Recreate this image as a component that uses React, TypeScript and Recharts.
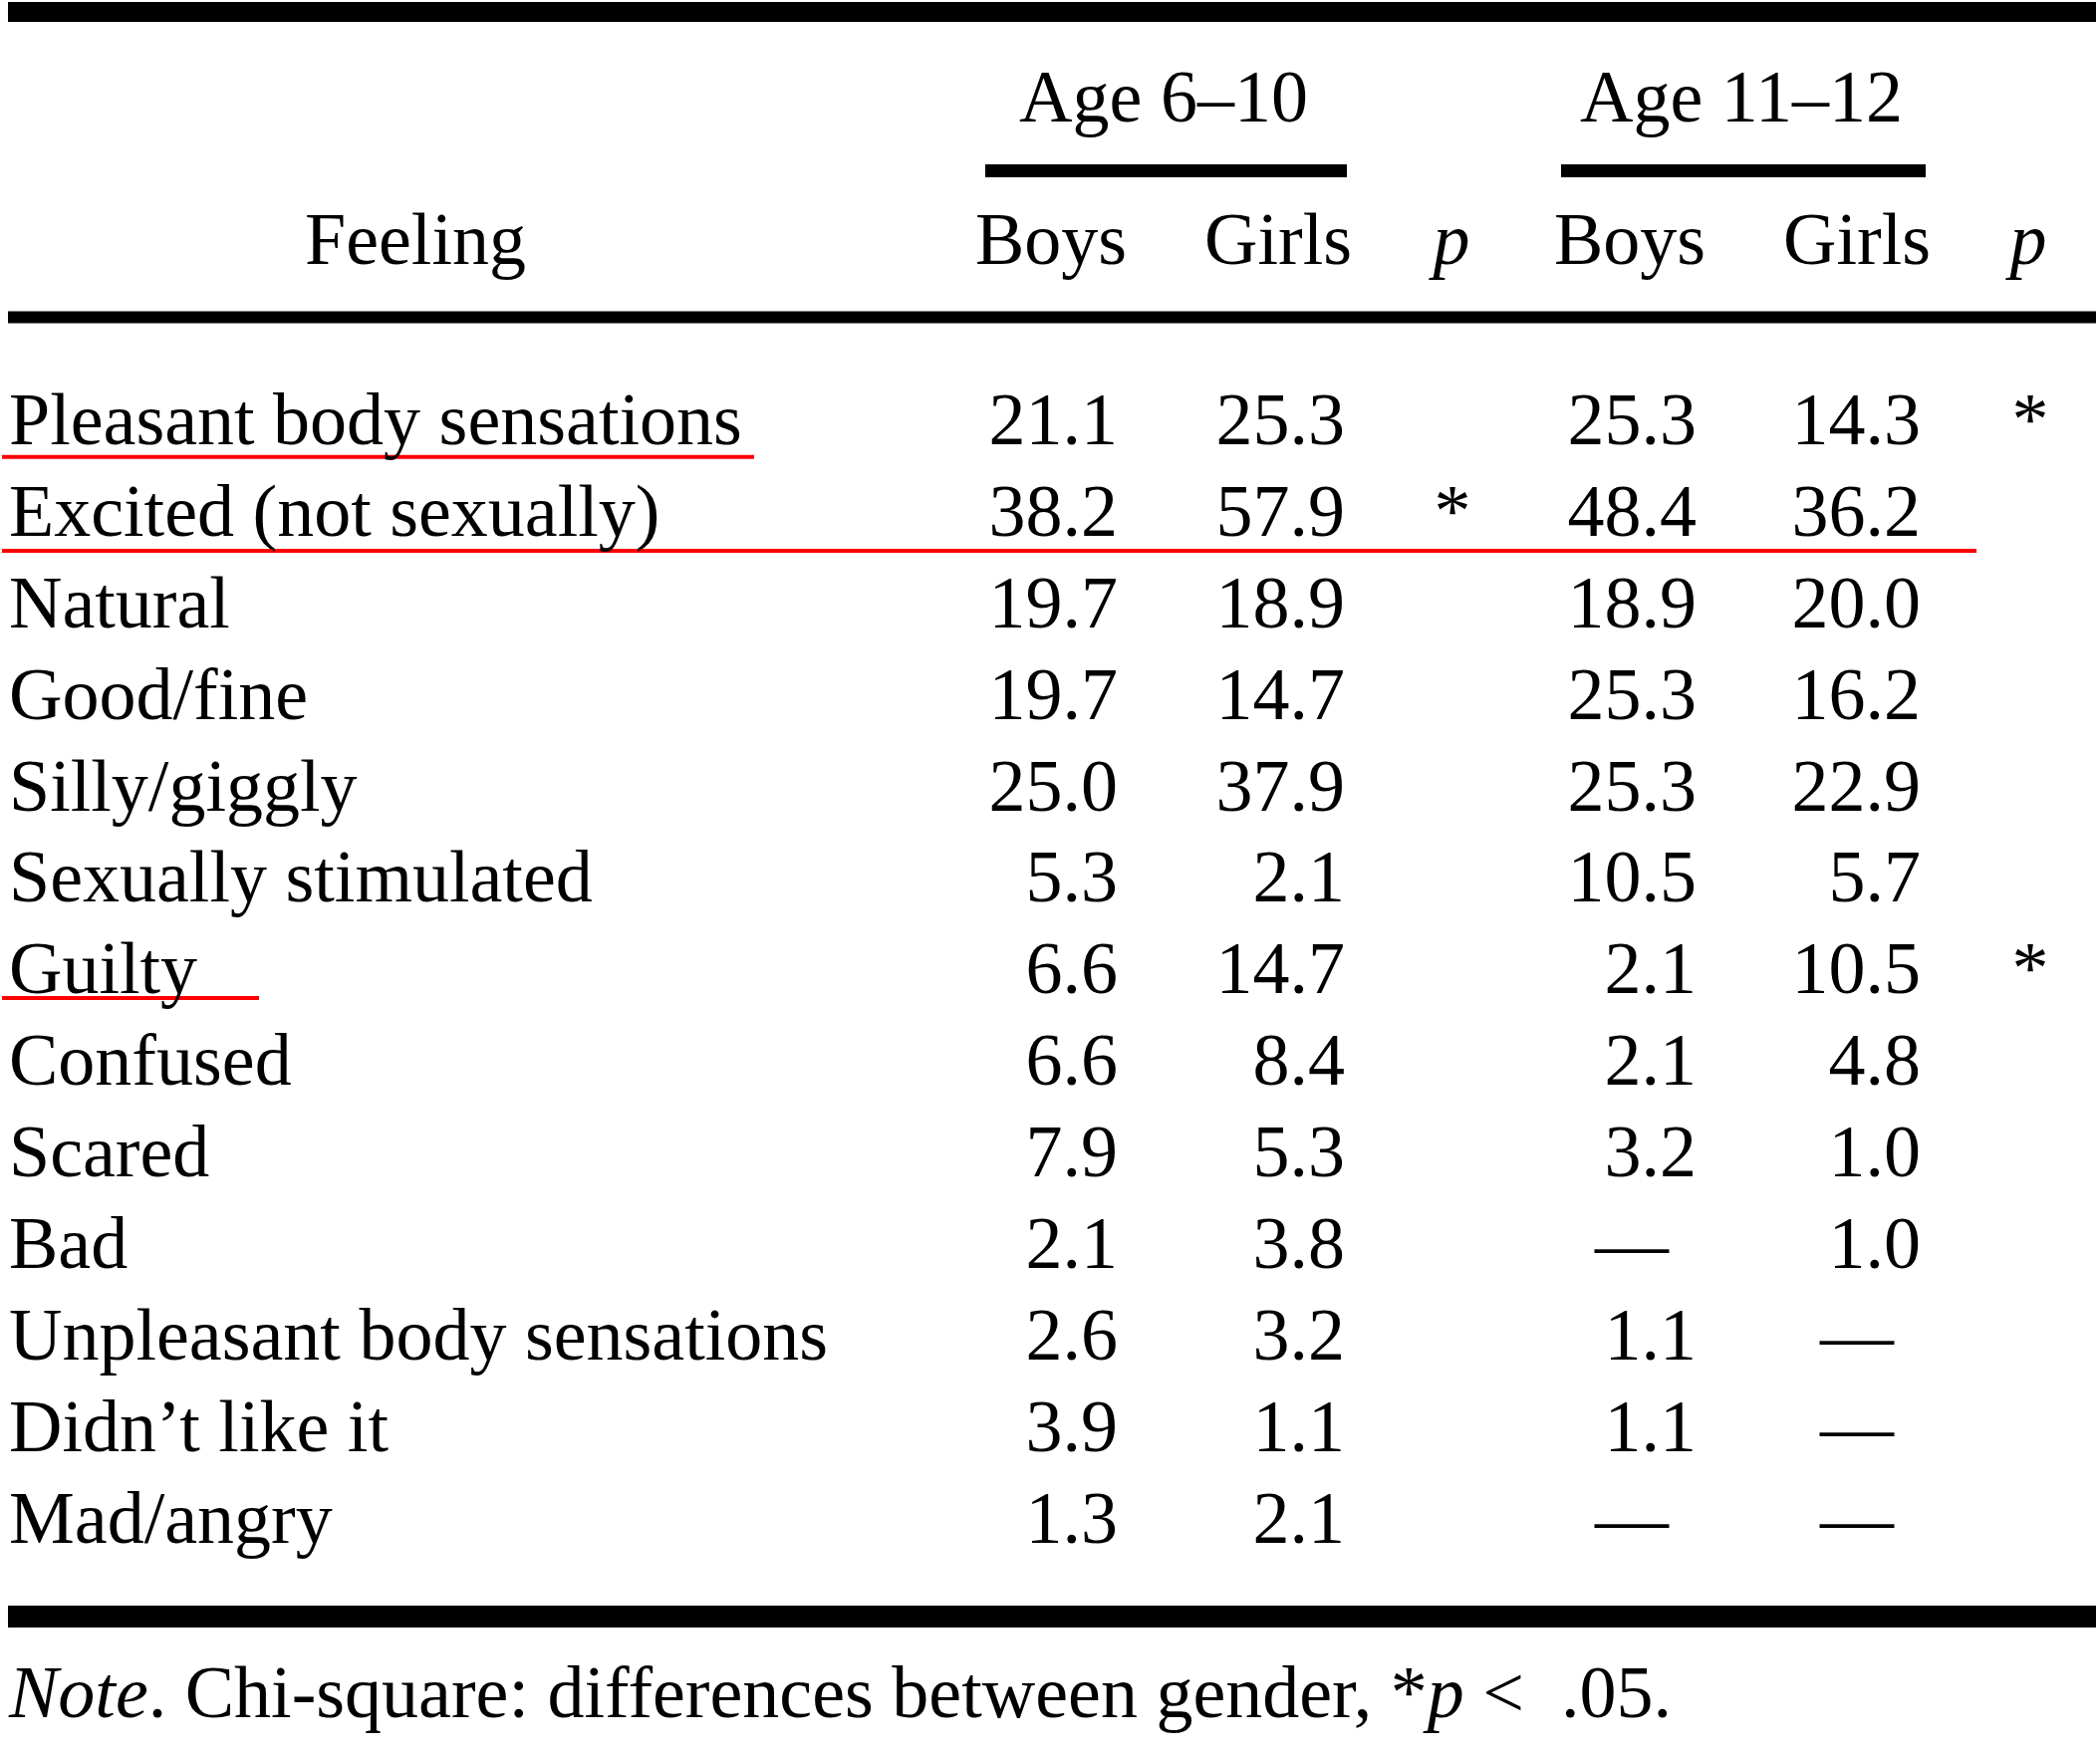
import React from 'react';
import { ScatterChart, Scatter, XAxis, YAxis, ReferenceLine } from 'recharts';

// table content
const feelings = [
  'Pleasant body sensations',
  'Excited (not sexually)',
  'Natural',
  'Good/fine',
  'Silly/giggly',
  'Sexually stimulated',
  'Guilty',
  'Confused',
  'Scared',
  'Bad',
  'Unpleasant body sensations',
  'Didn\u2019t like it',
  'Mad/angry',
];
const boys610: (number | null)[] = [21.1, 38.2, 19.7, 19.7, 25.0, 5.3, 6.6, 6.6, 7.9, 2.1, 2.6, 3.9, 1.3];
const girls610: (number | null)[] = [25.3, 57.9, 18.9, 14.7, 37.9, 2.1, 14.7, 8.4, 5.3, 3.8, 3.2, 1.1, 2.1];
const p610 = ['', '*', '', '', '', '', '', '', '', '', '', '', ''];
const boys1112: (number | null)[] = [25.3, 48.4, 18.9, 25.3, 25.3, 10.5, 2.1, 2.1, 3.2, null, 1.1, 1.1, null];
const girls1112: (number | null)[] = [14.3, 36.2, 20.0, 16.2, 22.9, 5.7, 10.5, 4.8, 1.0, 1.0, null, null, null];
const p1112 = ['*', '', '', '', '', '', '*', '', '', '', '', '', ''];

const ageGroups = ['Age 6\u201310', 'Age 11\u201312'];
const subHeads = ['Boys', 'Girls', 'p', 'Boys', 'Girls', 'p'];
const stubHead = 'Feeling';
const highlighted = ['Pleasant body sensations', 'Excited (not sexually)', 'Guilty'];

// layout (px on x, row units on y: row 0 baseline at 446px, 91.9px per row)
const W = 2108;
const H = 1764;
const FONT = '"Liberation Serif", "Times New Roman", serif';
const FS = 74;
const Y_DOMAIN: [number, number] = [-4.853, 14.342];
const ROW_AGE = -3.526;
const ROW_HEAD = -1.97;
const ROW_NOTE = 13.906;
const STUB_X = 9;
const STUB_HEAD_X = 417;
const AGE_X = [1168, 1748];
const HEAD_X = [1055, 1283, 1457, 1636, 1864, 2036];
const NUM_END_X = [1122, 1350, 1458, 1703, 1928, 2038];
const DASH_X = [1057, 1284, 1458, 1638, 1864, 2038];
const RULE_LEFT = 8;
const RULE_RIGHT = 2104;
const AGE_RULES = [
  [989, 1352],
  [1567, 1933],
];
const RED_LINES: Record<string, { dy: number; to: number }> = {
  'Pleasant body sensations': { dy: 0.14, to: 757 },
  'Excited (not sexually)': { dy: 0.165, to: 1984 },
  Guilty: { dy: 0.05, to: 260 },
};

type Cell = { x: number; y: number; text: string; anchor: string; italic?: boolean };

const TextMark = (props: any) => {
  const { cx, cy, payload } = props;
  if (cx == null || cy == null) return null;
  return (
    <text
      x={cx}
      y={cy}
      textAnchor={payload.anchor}
      fontFamily={FONT}
      fontSize={FS}
      fontStyle={payload.italic ? 'italic' : 'normal'}
      fill="#000"
    >
      {payload.text}
    </text>
  );
};

const NoteMark = (props: any) => {
  const { cx, cy } = props;
  if (cx == null || cy == null) return null;
  return (
    <text x={cx} y={cy} fontFamily={FONT} fontSize={FS} fill="#000" xmlSpace="preserve">
      <tspan fontStyle="italic">Note</tspan>
      <tspan>. Chi-square: differences between gender, *</tspan>
      <tspan fontStyle="italic">p</tspan>
      <tspan>{' <  .05.'}</tspan>
    </text>
  );
};

const valueCols = [boys610, girls610, p610, boys1112, girls1112, p1112];

const stubCells: Cell[] = feelings.map((f, i) => ({ x: STUB_X, y: i, text: f, anchor: 'start' }));

const bodyCells: Cell[] = valueCols.flatMap((col, c) =>
  (col as (number | string | null)[]).map((v, i) => {
    if (typeof v === 'string') return { x: NUM_END_X[c], y: i, text: v, anchor: 'middle' };
    if (v == null) return { x: DASH_X[c], y: i, text: '\u2014', anchor: 'middle' };
    return { x: NUM_END_X[c], y: i, text: v.toFixed(1), anchor: 'end' };
  })
);

const headCells: Cell[] = [
  { x: STUB_HEAD_X, y: ROW_HEAD, text: stubHead, anchor: 'middle' },
  ...subHeads.map((h, c) => ({ x: HEAD_X[c], y: ROW_HEAD, text: h, anchor: 'middle', italic: h === 'p' })),
  ...ageGroups.map((a, g) => ({ x: AGE_X[g], y: ROW_AGE, text: a, anchor: 'middle' })),
];

const noteCell = [{ x: STUB_X, y: ROW_NOTE }];

export default function App() {
  return (
    <div style={{ position: 'absolute', left: 0, top: 0, width: W, height: H, background: '#fff' }}>
      <ScatterChart width={W} height={H} margin={{ top: 0, right: 0, bottom: 0, left: 0 }}>
        <XAxis type="number" dataKey="x" domain={[0, W]} hide allowDataOverflow />
        <YAxis type="number" dataKey="y" domain={Y_DOMAIN} reversed hide allowDataOverflow />

        {/* rules */}
        <ReferenceLine
          segment={[{ x: RULE_LEFT, y: -4.722 }, { x: RULE_RIGHT, y: -4.722 }]}
          stroke="#000"
          strokeWidth={20}
          ifOverflow="visible"
        />
        {AGE_RULES.map(([a, b], g) => (
          <ReferenceLine
            key={g}
            segment={[{ x: a, y: -2.987 }, { x: b, y: -2.987 }]}
            stroke="#000"
            strokeWidth={13}
            ifOverflow="visible"
          />
        ))}
        <ReferenceLine
          segment={[{ x: RULE_LEFT, y: -1.387 }, { x: RULE_RIGHT, y: -1.387 }]}
          stroke="#000"
          strokeWidth={12}
          ifOverflow="visible"
        />
        <ReferenceLine
          segment={[{ x: RULE_LEFT, y: 12.807 }, { x: RULE_RIGHT, y: 12.807 }]}
          stroke="#000"
          strokeWidth={22}
          ifOverflow="visible"
        />

        {/* red hand-drawn underlines */}
        {highlighted.map((f) => {
          const i = feelings.indexOf(f);
          const r = RED_LINES[f];
          return (
            <ReferenceLine
              key={f}
              segment={[{ x: 2, y: i + r.dy }, { x: r.to, y: i + r.dy }]}
              stroke="#ff0000"
              strokeWidth={4}
              ifOverflow="visible"
            />
          );
        })}

        <Scatter data={headCells} shape={TextMark} isAnimationActive={false} />
        <Scatter data={stubCells} shape={TextMark} isAnimationActive={false} />
        <Scatter data={bodyCells} shape={TextMark} isAnimationActive={false} />
        <Scatter data={noteCell} shape={NoteMark} isAnimationActive={false} />
      </ScatterChart>
    </div>
  );
}
